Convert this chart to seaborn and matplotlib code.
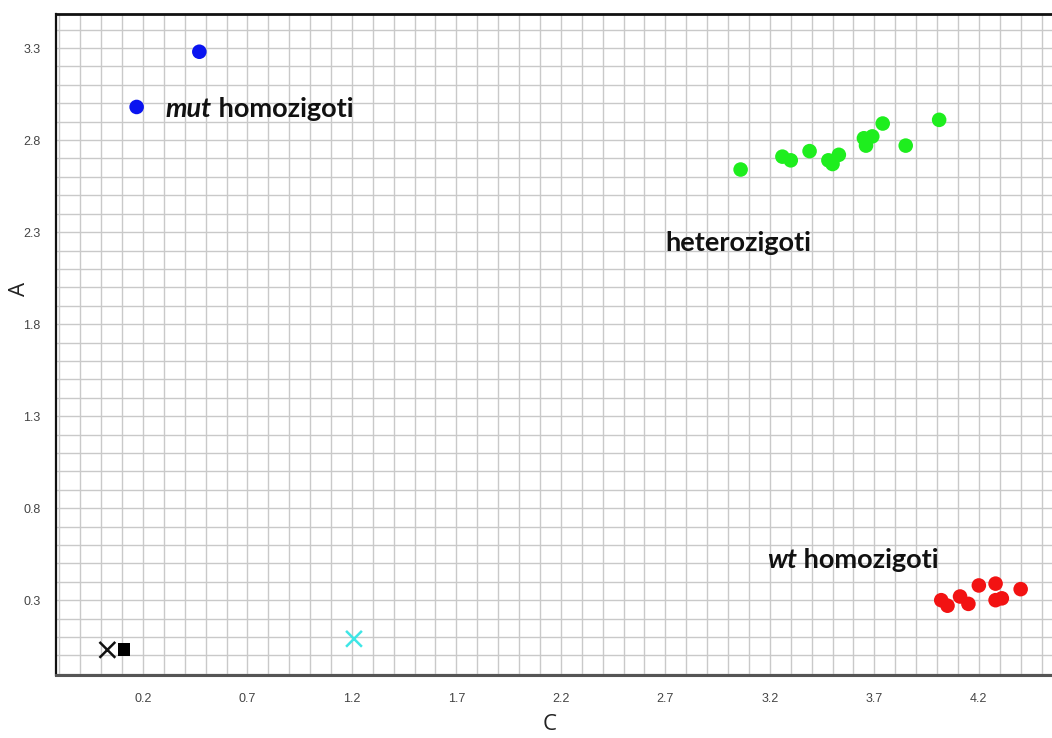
# genotype cluster plot: A vs C signal
import pandas as pd
import matplotlib
matplotlib.use("Agg")
import matplotlib.pyplot as plt
from matplotlib.ticker import MultipleLocator
import seaborn as sns

# -------------------------
# data
# -------------------------
mut_c = [0.47, 0.17]
mut_a = [3.28, 2.98]

het_c = [3.06, 3.26, 3.30, 3.39, 3.48, 3.50, 3.53, 3.65, 3.66, 3.69, 3.74, 3.85, 4.01]
het_a = [2.64, 2.71, 2.69, 2.74, 2.69, 2.67, 2.72, 2.81, 2.77, 2.82, 2.89, 2.77, 2.91]

wt_c = [4.02, 4.05, 4.11, 4.15, 4.20, 4.28, 4.28, 4.31, 4.40]
wt_a = [0.30, 0.27, 0.32, 0.28, 0.38, 0.39, 0.30, 0.31, 0.36]

ntc_c = [0.03]   # black cross
ntc_a = [0.03]
blank_c = [0.11]  # black square
blank_a = [0.03]
undet_c = [1.21]  # cyan cross
undet_a = [0.09]

x_ticks = [0.2, 0.7, 1.2, 1.7, 2.2, 2.7, 3.2, 3.7, 4.2]
y_ticks = [0.3, 0.8, 1.3, 1.8, 2.3, 2.8, 3.3]

circles = pd.DataFrame({
    "C": mut_c + het_c + wt_c,
    "A": mut_a + het_a + wt_a,
    "group": ["mut"] * len(mut_c) + ["het"] * len(het_c) + ["wt"] * len(wt_c),
})
crosses = pd.DataFrame({
    "C": ntc_c + undet_c,
    "A": ntc_a + undet_a,
    "group": ["ntc"] * len(ntc_c) + ["undet"] * len(undet_c),
})
squares = pd.DataFrame({"C": blank_c, "A": blank_a})

palette = {"mut": "#0a14f0", "het": "#1eee1e", "wt": "#f21212",
           "ntc": "#111111", "undet": "#3ee6e6"}

# -------------------------
# figure
# -------------------------
sns.set_style("white")
plt.rcParams["font.family"] = ["Liberation Sans", "DejaVu Sans"]

fig = plt.figure(figsize=(10.52, 7.38), dpi=100)
ax = fig.add_axes([0.0532, 0.085, 0.9468, 0.896])

sns.scatterplot(data=circles, x="C", y="A", hue="group", palette=palette,
                s=110, edgecolor="none", legend=False, ax=ax, zorder=3)
sns.scatterplot(data=crosses, x="C", y="A", hue="group", palette=palette,
                marker="x", s=130, linewidth=1.8, legend=False, ax=ax, zorder=3)
sns.scatterplot(data=squares, x="C", y="A", color="#000000", marker="s",
                s=85, edgecolor="none", legend=False, ax=ax, zorder=3)

ax.set_xlim(-0.216, 4.55)
ax.set_ylim(-0.108, 3.485)

ax.set_xticks(x_ticks)
ax.set_yticks(y_ticks)
ax.xaxis.set_minor_locator(MultipleLocator(0.1))
ax.yaxis.set_minor_locator(MultipleLocator(0.1))
ax.grid(True, which="both", color="#c9c9c9", linewidth=1.0)
ax.set_axisbelow(True)

ax.tick_params(axis="both", which="major", direction="out", length=7, width=1,
               color="#9a9a9a", labelsize=9, labelcolor="#444444")
ax.tick_params(axis="both", which="minor", direction="out", length=5, width=1,
               color="#b0b0b0")
ax.tick_params(axis="x", which="major", pad=6)
ax.tick_params(axis="y", which="major", pad=4)

ax.spines["right"].set_visible(False)
ax.spines["top"].set_color("#111111")
ax.spines["top"].set_linewidth(2)
ax.spines["left"].set_color("#111111")
ax.spines["left"].set_linewidth(1.6)
ax.spines["bottom"].set_color("#555555")
ax.spines["bottom"].set_linewidth(2.2)

label_font = ["Open Sans", "DejaVu Sans"]
ax.set_xlabel("C", fontsize=16, family=label_font, color="#222222")
ax.set_ylabel("A", fontsize=16, family=label_font, color="#222222")
ax.xaxis.set_label_coords(0.496, -0.058)
ax.yaxis.set_label_coords(-0.026, 0.585)

# cluster labels
note_font = ["Lato", "DejaVu Sans"]
fs = 19.5
t1 = ax.text(0.31, 2.925, "mut", fontsize=fs, family=note_font, weight="bold",
             style="italic", color="#111111", va="baseline")
ax.annotate(" homozigoti", xy=(1, 0), xycoords=t1, fontsize=fs, family=note_font,
            weight="bold", color="#111111", va="bottom")

ax.text(2.70, 2.20, "heterozigoti", fontsize=fs, family=note_font, weight="bold",
        color="#111111", va="baseline")

t2 = ax.text(3.185, 0.474, "wt", fontsize=fs, family=note_font, weight="bold",
             style="italic", color="#111111", va="baseline")
ax.annotate(" homozigoti", xy=(1, 0), xycoords=t2, fontsize=fs, family=note_font,
            weight="bold", color="#111111", va="bottom")

fig.savefig("out.png", dpi=100)
print("saved out.png")
